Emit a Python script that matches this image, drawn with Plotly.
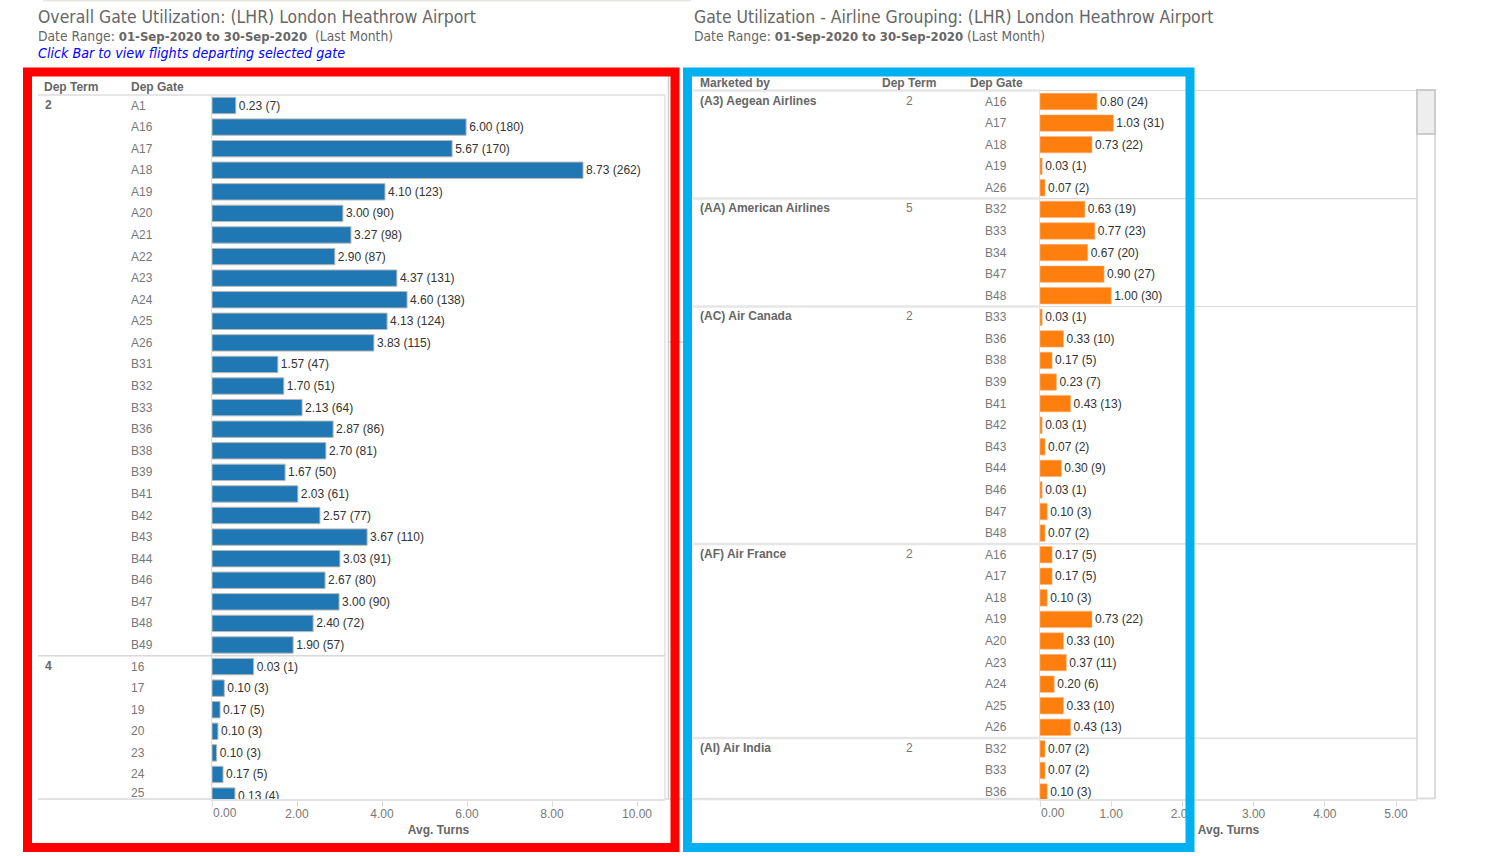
import plotly.graph_objects as go

W, H = 1510, 856
TITLE_FONT = "DejaVu Sans Condensed, DejaVu Sans"
BODY_FONT = "Liberation Sans, Arial"

# ---- left panel data ----
left_terms = ["2", "4"]
left_gates_t2 = ["A1", "A16", "A17", "A18", "A19", "A20", "A21", "A22", "A23", "A24", "A25", "A26",
                 "B31", "B32", "B33", "B36", "B38", "B39", "B41", "B42", "B43", "B44", "B46", "B47", "B48", "B49"]
left_gates_t4 = ["16", "17", "19", "20", "23", "24", "25"]
left_labels_turns = [0.23, 6.00, 5.67, 8.73, 4.10, 3.00, 3.27, 2.90, 4.37, 4.60, 4.13, 3.83,
                     1.57, 1.70, 2.13, 2.87, 2.70, 1.67, 2.03, 2.57, 3.67, 3.03, 2.67, 3.00, 2.40, 1.90,
                     0.03, 0.10, 0.17, 0.10, 0.10, 0.17, 0.13]
left_counts = [7, 180, 170, 262, 123, 90, 98, 87, 131, 138, 124, 115,
               47, 51, 64, 86, 81, 50, 61, 77, 110, 91, 80, 90, 72, 57,
               1, 3, 5, 3, 3, 5, 4]
# drawn lengths (some differ from their printed label)
left_bar_lengths = [0.56, 5.98, 5.65, 8.73, 4.07, 3.08, 3.27, 2.89, 4.35, 4.59, 4.12, 3.81,
                    1.55, 1.69, 2.12, 2.85, 2.68, 1.72, 2.02, 2.54, 3.65, 3.01, 2.66, 2.99, 2.38, 1.91,
                    0.98, 0.29, 0.19, 0.14, 0.11, 0.26, 0.54]

# ---- right panel data ----
airlines = ["(A3) Aegean Airlines", "(AA) American Airlines", "(AC) Air Canada", "(AF) Air France", "(AI) Air India"]
airline_terms = ["2", "5", "2", "2", "2"]
airline_gates = [
    ["A16", "A17", "A18", "A19", "A26"],
    ["B32", "B33", "B34", "B47", "B48"],
    ["B33", "B36", "B38", "B39", "B41", "B42", "B43", "B44", "B46", "B47", "B48"],
    ["A16", "A17", "A18", "A19", "A20", "A23", "A24", "A25", "A26"],
    ["B32", "B33", "B36"],
]
airline_turns = [
    [0.80, 1.03, 0.73, 0.03, 0.07],
    [0.63, 0.77, 0.67, 0.90, 1.00],
    [0.03, 0.33, 0.17, 0.23, 0.43, 0.03, 0.07, 0.30, 0.03, 0.10, 0.07],
    [0.17, 0.17, 0.10, 0.73, 0.33, 0.37, 0.20, 0.33, 0.43],
    [0.07, 0.07, 0.10],
]
airline_counts = [
    [24, 31, 22, 1, 2],
    [19, 23, 20, 27, 30],
    [1, 10, 5, 7, 13, 1, 2, 9, 1, 3, 2],
    [5, 5, 3, 22, 10, 11, 6, 10, 13],
    [2, 2, 3],
]
left_ticks = [0, 2, 4, 6, 8, 10]
right_ticks = [0, 1, 2, 3, 4, 5]


def px(x):
    return x / W


def py(y):
    return 1 - y / H


def note(text, x, y, size=12, color="#666666", family=BODY_FONT, xanchor="left", yref="paper", yshift=0):
    return dict(text=text, x=px(x), y=py(y) if yref == "paper" else y, xref="paper", yref=yref,
                xanchor=xanchor, yanchor="middle", showarrow=False, yshift=yshift,
                font=dict(size=size, color=color, family=family), borderpad=0)


def hline(x0, x1, y, color="#dddddd", width=1):
    return dict(type="line", xref="paper", yref="paper", x0=px(x0), x1=px(x1), y0=py(y), y1=py(y),
                line=dict(color=color, width=width), layer="above")


def vline(x, y0, y1, color="#dddddd", width=1):
    return dict(type="line", xref="paper", yref="paper", x0=px(x), x1=px(x), y0=py(y0), y1=py(y1),
                line=dict(color=color, width=width), layer="above")


def box(x0, x1, y0, y1, fill="rgba(0,0,0,0)", color="#cccccc", width=1):
    return dict(type="rect", xref="paper", yref="paper", x0=px(x0), x1=px(x1), y0=py(y0), y1=py(y1),
                fillcolor=fill, line=dict(color=color, width=width), layer="above")


left_keys = left_gates_t2 + left_gates_t4
left_text = [f"{v:.2f} ({c})" for v, c in zip(left_labels_turns, left_counts)]

right_keys, right_vals, right_text = [], [], []
for name, gates, vals, cnts in zip(airlines, airline_gates, airline_turns, airline_counts):
    for g, v, c in zip(gates, vals, cnts):
        right_keys.append(name[:4] + " " + g)
        right_vals.append(v)
        right_text.append(f"{v:.2f} ({c})")

fig = go.Figure()
fig.add_trace(go.Bar(
    y=left_keys, x=left_bar_lengths, orientation="h", xaxis="x", yaxis="y",
    marker=dict(color="#1f77b4", line=dict(color="#b8b8b8", width=1)),
    text=left_text, textposition="outside", cliponaxis=True, constraintext="none",
    textfont=dict(size=12, color="#333333", family=BODY_FONT), hoverinfo="skip", showlegend=False))
fig.add_trace(go.Bar(
    y=right_keys, x=right_vals, orientation="h", xaxis="x2", yaxis="y2",
    marker=dict(color="#ff7f0e", line=dict(color="#ffb27a", width=0.6)),
    text=right_text, textposition="outside", cliponaxis=True, constraintext="none",
    textfont=dict(size=12, color="#333333", family=BODY_FONT), hoverinfo="skip", showlegend=False))


def x_axis(anchor, domain, rng, ticks):
    return dict(domain=domain, range=rng, anchor=anchor, tickvals=ticks,
                ticktext=["" if t == 0 else f"{t:.2f}" for t in ticks],
                ticks="outside", ticklen=6, tickcolor="#dddddd", tickwidth=1, ticklabelstandoff=-3,
                tickfont=dict(size=12, color="#777777", family=BODY_FONT),
                showgrid=False, zeroline=False, showline=True, linecolor="#e2e2e2", linewidth=2,
                title=dict(text="<b>Avg. Turns</b>", standoff=5,
                           font=dict(size=12, color="#666666", family=BODY_FONT)))


def y_axis(anchor, domain, keys, rng):
    return dict(domain=domain, anchor=anchor, type="category", categoryorder="array", categoryarray=keys,
                range=rng, showticklabels=False, ticks="", showgrid=False, zeroline=False,
                showline=True, linecolor="#dddddd", linewidth=1)


ROW = 21.58
LEFT_Y0, RIGHT_Y0 = 105.5, 101.5
BOTTOM = 799
LEFT_TOP, RIGHT_TOP = 95, 90.5
LEFT_SCALE, RIGHT_SCALE = 42.5, 71.2

fig.update_layout(
    width=W, height=H, margin=dict(l=0, r=0, t=0, b=0), autosize=False,
    paper_bgcolor="white", plot_bgcolor="white", barmode="overlay", bargap=0.24,
    xaxis=x_axis("y", [px(212), px(665)], [0, (665 - 212) / LEFT_SCALE], left_ticks),
    yaxis=y_axis("x", [py(BOTTOM), py(LEFT_TOP)], left_keys,
                 [(BOTTOM - LEFT_Y0) / ROW, (LEFT_TOP - LEFT_Y0) / ROW]),
    xaxis2=x_axis("y2", [px(1040), px(1417)], [0, (1417 - 1040) / RIGHT_SCALE], right_ticks),
    yaxis2=y_axis("x2", [py(BOTTOM), py(RIGHT_TOP)], right_keys,
                  [(BOTTOM - RIGHT_Y0) / ROW, (RIGHT_TOP - RIGHT_Y0) / ROW]),
)

GREY = "#666666"
BOLD_DATE = '<b><span style="font-size:13px">01-Sep-2020 to 30-Sep-2020</span></b>'
anns = [
    note("Overall Gate Utilization: (LHR) London Heathrow Airport", 37, 16.6, 17.45, GREY, TITLE_FONT),
    note("Date Range: " + BOLD_DATE + "  (Last Month)", 37, 36, 13.75, GREY, TITLE_FONT),
    note("<i>Click Bar to view flights departing selected gate</i>", 37, 53, 14.2, "#0000ff", TITLE_FONT),
    note("Gate Utilization - Airline Grouping: (LHR) London Heathrow Airport", 693, 16.6, 17.45, GREY, TITLE_FONT),
    note("Date Range: " + BOLD_DATE + " (Last Month)", 693, 36, 13.75, GREY, TITLE_FONT),
    note("<b>Dep Term</b>", 43, 87),
    note("<b>Dep Gate</b>", 130, 87),
    note("<b>Marketed by</b>", 699, 83),
    note("<b>Dep Term</b>", 881, 83),
    note("<b>Dep Gate</b>", 969, 83),
    note("0.00", 224.5, 813, color="#777777", xanchor="center"),
    note("0.00", 1052.5, 813, color="#777777", xanchor="center"),
]
# category labels are placed by row number: gate names such as "16" would read as numbers
row = 0
for term, gates in zip(left_terms, [left_gates_t2, left_gates_t4]):
    anns.append(note(f"<b>{term}</b>", 44, row, yref="y", yshift=1))
    row += len(gates)
for i, g in enumerate(left_keys):
    anns.append(note(g, 130, i, color="#777777", yref="y", yshift=3 if g == "25" else 0))

idx = 0
separators_right = []
for name, term, gates in zip(airlines, airline_terms, airline_gates):
    anns.append(note(f"<b>{name}</b>", 699, idx, yref="y2", yshift=1))
    anns.append(note(term, 909.5, idx, color="#777777", xanchor="center", yref="y2", yshift=1))
    for g in gates:
        anns.append(note(g, 984, idx, color="#777777", yref="y2"))
        idx += 1
    separators_right.append(RIGHT_Y0 + (idx - 0.5) * ROW)

shapes = [
    hline(43, 691, 0.8, "#e6e6df", 1.5),
    hline(668, 692, 342, "#cccccc", 1.5),
    hline(38, 665, 95, "#dddddd", 1.5),
    hline(38, 212, 799, "#e2e2e2", 2),
    hline(665, 700, 799, "#e2e2e2", 2),
    vline(665, 95, 799, "#e0e0e0", 1.5),
    vline(668.5, 76, 799, "#cfcfcf", 1.5),
    hline(38, 665, LEFT_Y0 + 25.5 * ROW, "#d8d8d8", 1.5),
    hline(693, 1040, 90.5, "#e6e6e6", 2.5),
    hline(1040, 1417, 90.5, "#d8d8d8", 1.2),
    hline(693, 1040, 799, "#e2e2e2", 2.5),
    vline(1417, 90, 799, "#dddddd", 2),
    vline(1435, 90, 799, "#dddddd", 2),
    hline(1417, 1435, 798.5, "#dddddd", 2),
    box(1417, 1435, 90, 134, "#eeeeee", "#cccccc", 2),
]
for y in separators_right[:-1]:
    shapes.append(hline(693, 1040, y, "#e6e6e6", 2.5))
    shapes.append(hline(1040, 1417, y, "#d8d8d8", 1.2))
# highlight frames
shapes.append(box(27.5, 675, 72, 847.5, color="#ff0000", width=9))
shapes.append(box(687.5, 1190, 72, 847.5, color="#00b0f0", width=9))

fig.update_layout(annotations=anns, shapes=shapes)
fig.write_html("out.html", config={"displayModeBar": False},
               post_script="document.body.style.margin='0';")
